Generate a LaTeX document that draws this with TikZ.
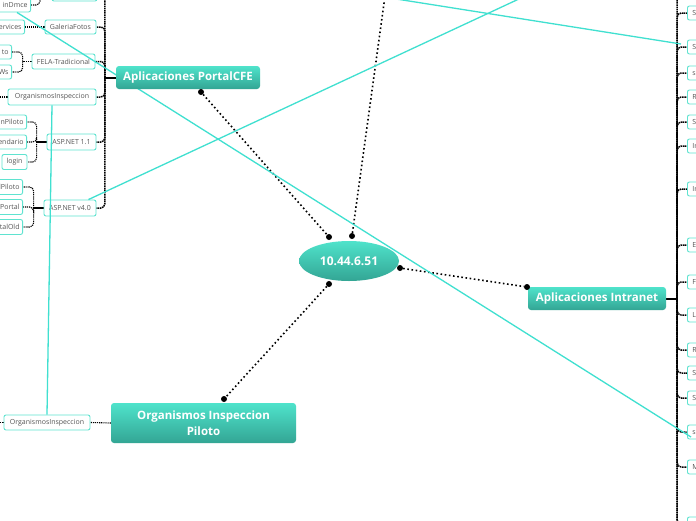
\documentclass[tikz,border=0pt]{standalone}
\usepackage{fontspec}
\setmainfont{Open Sans}
\usetikzlibrary{shapes.geometric,calc}
\definecolor{tealtop}{HTML}{4FE3CB}
\definecolor{tealbot}{HTML}{33A594}
\definecolor{subedge}{HTML}{5FE3D0}
\definecolor{relc}{HTML}{40E0D0}
\definecolor{subtext}{HTML}{555555}
\pgfdeclarelayer{bg}
\pgfsetlayers{bg,main}
\begin{document}
\begin{tikzpicture}[x=1pt,y=-1pt,
  topic/.style={rounded corners=3pt, top color=tealtop, bottom color=tealbot, text=white,
    font=\fontsize{11.5}{16}\selectfont\bfseries, align=center, inner sep=0pt},
  sub/.style={draw=subedge, line width=0.9pt, fill=white, rounded corners=2pt, text=subtext,
    font=\fontsize{7}{8}\selectfont, inner sep=0pt, minimum height=14pt},
  subR/.style={sub, anchor=east, text width=60pt, align=right, inner xsep=3pt},
  subL/.style={sub, anchor=west, text width=40pt, align=left, inner xsep=5pt},
  bul/.style={circle, fill=black, inner sep=0pt, minimum size=6pt},
  mainc/.style={black, line width=1.6pt, dash pattern=on 1.6pt off 2.6pt},
  subc/.style={black, line width=1.1pt, dash pattern=on 1.2pt off 0.9pt, rounded corners=4pt},
  trunkc/.style={subc, line width=1.5pt, dash pattern=on 1.5pt off 0.7pt},
  solidc/.style={black, line width=2pt},
  rel/.style={relc, line width=1.3pt}
]
\useasboundingbox (0,0) rectangle (696,520);
\begin{pgfonlayer}{bg}
\fill[white] (0,0) rectangle (696,520);
\end{pgfonlayer}

% ---------- small boxes, left ----------
\node[sub, minimum width=45pt, minimum height=15pt] (topbox) at (74.5,-6.5) {};
\node[subR] (indmce) at (31,5) {inDmce};
\node[subR] (services) at (25,27) {ervices};
\node[sub, minimum width=51pt] (galeria) at (70.5,27) {GaleriaFotos};
\node[sub, minimum width=63pt, minimum height=15pt] (fela) at (63.5,61.5) {FELA-Tradicional};
\node[subR] (to) at (12,52) {to};
\node[subR] (ws) at (12,72) {Ws};
\node[sub, minimum width=88pt, minimum height=16pt] (orgL) at (52,97) {OrganismosInspeccion};
\node[sub, minimum width=49pt, minimum height=16pt] (asp11) at (71.5,142) {ASP.NET 1.1};
\node[subR] (npiloto) at (27,122) {nPiloto};
\node[subR] (endario) at (27,142) {endario};
\node[sub, minimum width=25pt, minimum height=15pt] (login) at (14.5,162) {login};
\node[sub, minimum width=52pt, minimum height=16pt] (asp40) at (70,208) {ASP.NET v4.0};
\node[subR, minimum height=15pt] (lpiloto) at (23,187) {lPiloto};
\node[subR, minimum height=15pt] (portal) at (23,207) {Portal};
\node[subR, minimum height=15pt] (talold) at (23,227) {talOld};
\node[sub, minimum width=86pt, minimum height=15pt] (orgB) at (47,422.5) {OrganismosInspeccion};

% ---------- small boxes, right ----------
\node[subL] (r1) at (687,13) {Se};
\node[subL] (r2) at (687,47) {Si};
\node[subL] (r3) at (687,73) {si};
\node[subL] (r4) at (687,97) {R};
\node[subL] (r5) at (687,122) {S};
\node[subL] (r6) at (687,146) {In};
\node[subL] (r7) at (687,189) {In};
\node[subL] (r8) at (687,245) {Ev};
\node[subL] (r9) at (687,282) {Fo};
\node[subL] (r10) at (687,315) {La};
\node[subL] (r11) at (687,350) {R};
\node[subL] (r12) at (687,373) {S};
\node[subL] (r13) at (687,398) {Si};
\node[subL] (r14) at (687,432) {si};
\node[subL] (r15) at (687,467) {M};
\node[subL] (r16) at (687,524) {};

% free ends beyond the page
\coordinate (indp) at (40,-14);
\coordinate (orgLp) at (-6,97);
\coordinate (orgBp) at (-6,422.5);
\coordinate (rtop) at (687,-20);
\coordinate (rbot) at (687,545);
\coordinate (upend) at (385,-4);
\coordinate (rel2end) at (521,-2);
\coordinate (rel3start) at (390,-2);

% ---------- relationship lines ----------
\draw[rel] ([xshift=-14pt]indmce.south east) -- ([xshift=4pt,yshift=-5pt]r14.west);
\draw[rel] ([xshift=-8pt]asp40.north east) -- (rel2end);
\draw[rel] (rel3start) -- ([xshift=-6pt,yshift=3pt]r2.west);
\draw[rel] (orgL.south) -- (orgB.north);

% ---------- topics ----------
\node[topic, minimum width=144pt, minimum height=23pt] (portalcfe) at (188,77.5) {Aplicaciones PortalCFE};
\node[topic, minimum width=138pt, minimum height=23pt] (intranet) at (597,298.5) {Aplicaciones Intranet};
\node[topic, minimum width=185pt, minimum height=40pt] (orgpil) at (203.5,423) {Organismos Inspeccion\\Piloto};
\node[ellipse, top color=tealtop, bottom color=tealbot, text=white, minimum width=100pt,
  minimum height=40pt, inner sep=0pt, font=\fontsize{12}{14}\selectfont\bfseries] (ip) at (349,261) {10.44.6.51};

% ---------- bullets ----------
\node[bul] (b1) at (201,92) {};
\node[bul] (b2) at (329,237) {};
\node[bul] (b3) at (352,236) {};
\node[bul] (b4) at (400,268) {};
\node[bul] (b5) at (527,287) {};
\node[bul] (b6) at (329,284) {};
\node[bul] (b7) at (224,399) {};

% ---------- connectors ----------
\begin{pgfonlayer}{bg}
\draw[mainc] (b1) -- (b2);
\draw[mainc] (b3) -- (upend);
\draw[mainc] (b4) -- (b5);
\draw[mainc] (b6) -- (b7);

\coordinate (jL) at ([xshift=-11pt]portalcfe.west);
\draw[solidc] (portalcfe.west) -- (jL);
\foreach \c in {topbox,galeria,fela,orgL,asp11,asp40}
  \draw[trunkc] (jL) |- (\c.east);
\draw[subc] (indmce.east) -| (indp);
\draw[subc] (galeria.west) -- (services.east);
\coordinate (jF) at ([xshift=-9pt]fela.west);
\draw[subc] (fela.west) -- (jF);
\draw[subc] (jF) |- (to.east);
\draw[subc] (jF) |- (ws.east);
\draw[subc] (orgL.west) -- (orgLp);
\coordinate (jA) at ([xshift=-10pt]asp11.west);
\draw[solidc] (asp11.west) -- (jA);
\foreach \c in {npiloto,endario,login}
  \draw[subc] (jA) |- (\c.east);
\coordinate (jB) at ([xshift=-10pt]asp40.west);
\draw[solidc] (asp40.west) -- (jB);
\foreach \c in {lpiloto,portal,talold}
  \draw[subc] (jB) |- (\c.east);
\draw[subc] (orgpil.west) -- (orgB.east);
\draw[subc] (orgB.west) -- (orgBp);

\coordinate (jR) at ([xshift=11pt]intranet.east);
\draw[solidc] (intranet.east) -- (jR);
\foreach \c in {r1,r2,r3,r4,r5,r6,r7,r8,r9,r10,r11,r12,r13,r14,r15,r16}
  \draw[trunkc] (jR) |- (\c.west);
\draw[trunkc] (jR) |- (rtop);
\draw[trunkc] (jR) |- (rbot);
\end{pgfonlayer}
\end{tikzpicture}
\end{document}
